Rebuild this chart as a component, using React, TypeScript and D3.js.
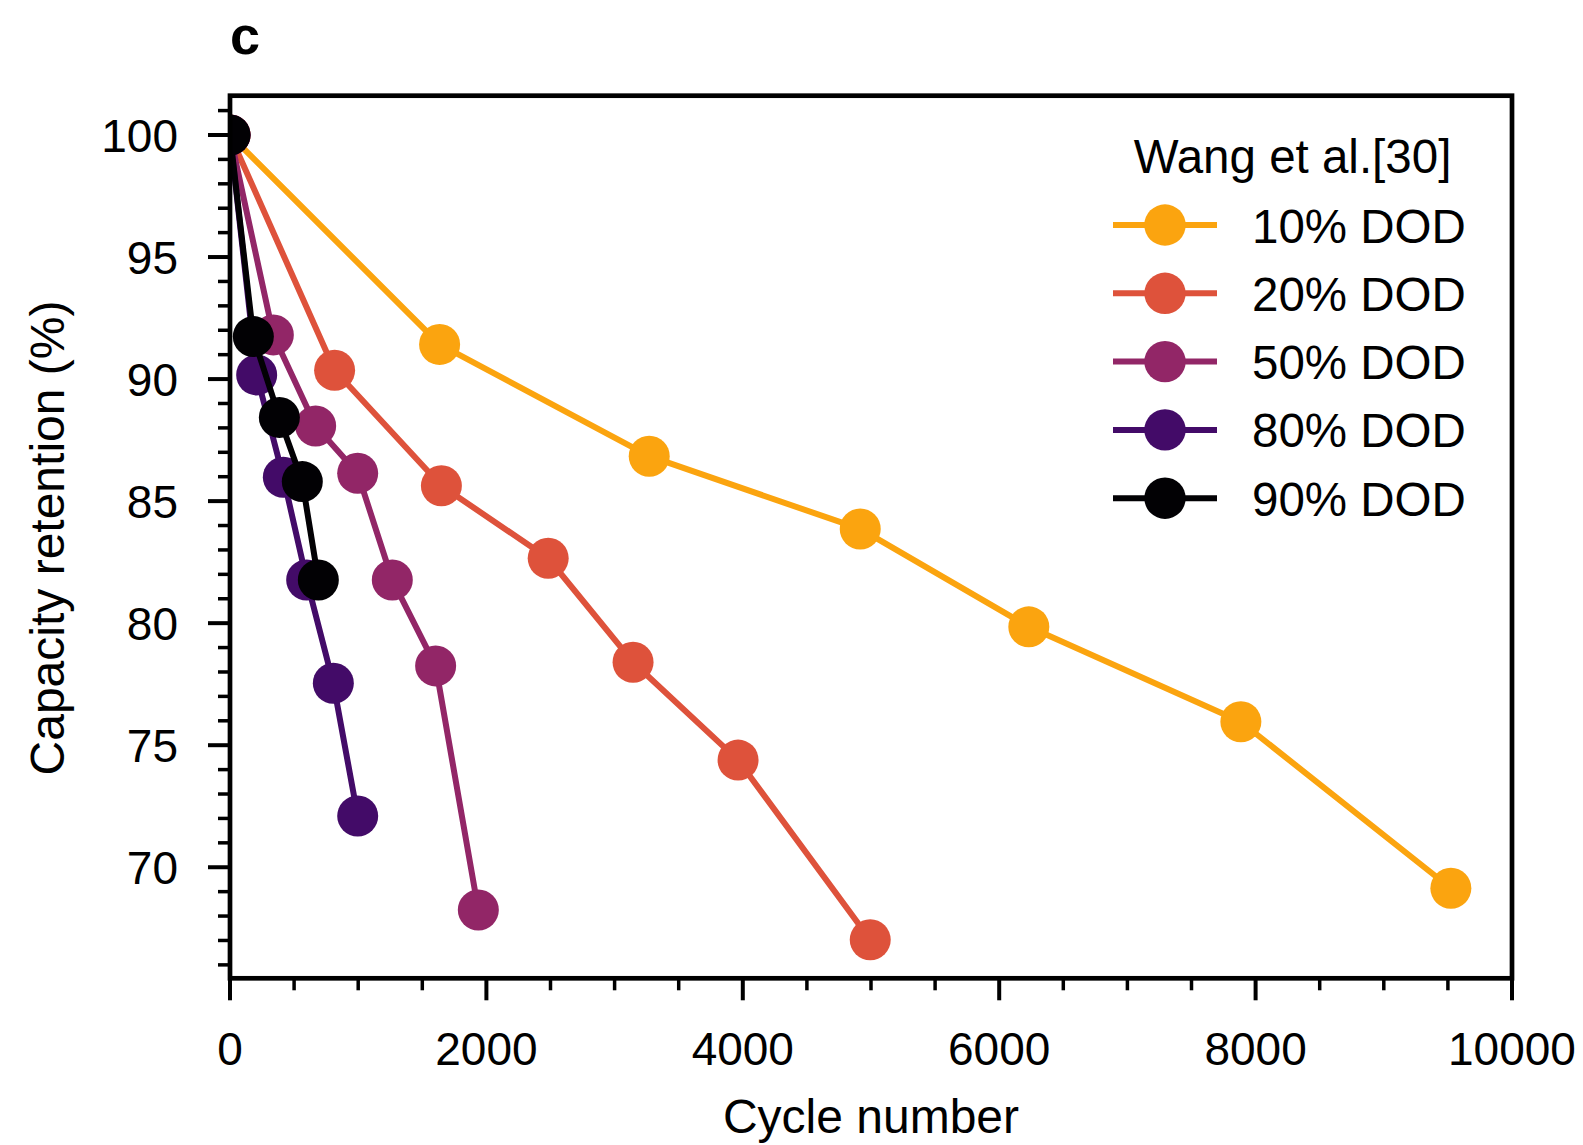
import React from "react";
import * as d3 from "d3";

const seriesNames = ["10% DOD", "20% DOD", "50% DOD", "80% DOD", "90% DOD"];
const seriesColors = ["#FBA40F", "#DE523B", "#922667", "#430B68", "#020104"];

const dod10X = [0, 1635, 3270, 4916, 6231, 7885, 9523];
const dod10Y = [100, 91.42, 86.84, 83.86, 79.85, 75.96, 69.14];
const dod20X = [0, 816, 1649, 2482, 3144, 3963, 4994];
const dod20Y = [100, 90.36, 85.63, 82.66, 78.4, 74.39, 67.03];
const dod50X = [0, 338, 668, 996, 1266, 1604, 1937];
const dod50Y = [100, 91.81, 88.08, 86.14, 81.77, 78.25, 68.25];
const dod80X = [0, 208, 416, 598, 806, 996];
const dod80Y = [100, 90.17, 85.98, 81.77, 77.54, 72.1];
const dod90X = [0, 182, 385, 564, 689];
const dod90Y = [100, 91.74, 88.43, 85.8, 81.77];

const xMajorTicks = [0, 2000, 4000, 6000, 8000, 10000];
const yMajorTicks = [70, 75, 80, 85, 90, 95, 100];

const legendTitle = "Wang et al.[30]";
const xLabel = "Cycle number";
const yLabel = "Capacity retention (%)";
const panelLabel = "c";

const seriesX = [dod10X, dod20X, dod50X, dod80X, dod90X];
const seriesY = [dod10Y, dod20Y, dod50Y, dod80Y, dod90Y];

const W = 1583;
const H = 1145;
const L = 230, R = 1512, T = 95.7, B = 978.3;
const FONT = "'Liberation Sans', Arial, Helvetica, sans-serif";

export default function App() {
  const x = d3.scaleLinear().domain([0, 10000]).range([L, R]);
  const y = d3.scaleLinear().domain([65.45, 101.61]).range([B, T]);
  const xMinor = d3.range(0, 10001, 500).filter((v) => v % 2000 !== 0);
  const yMinor = d3.range(66, 102, 1).filter((v) => v % 5 !== 0);
  const line = d3.line<[number, number]>().x((d) => x(d[0])).y((d) => y(d[1]));
  const markerR = 20.5;
  const lw = 6;

  const legX0 = 1113, legX1 = 1217, legMX = 1165, legTextX = 1252;
  const legY0 = 225, legDY = 68.3;

  return (
    <svg width={W} height={H} style={{ position: "absolute", left: 0, top: 0, background: "#fff" }} fontFamily={FONT}>
      <defs>
        <clipPath id="plotclip">
          <rect x={L} y={T} width={R - L} height={B - T} />
        </clipPath>
      </defs>
      <rect x={0} y={0} width={W} height={H} fill="#fff" />
      <g clipPath="url(#plotclip)">
        {seriesNames.map((name, i) => {
          const pts: [number, number][] = seriesX[i].map((v, j) => [v, seriesY[i][j]]);
          return (
            <g key={name}>
              <path d={line(pts) || ""} fill="none" stroke={seriesColors[i]} strokeWidth={lw} strokeLinejoin="round" />
              {pts.map((p, j) => (
                <circle key={j} cx={x(p[0])} cy={y(p[1])} r={markerR} fill={seriesColors[i]} />
              ))}
            </g>
          );
        })}
      </g>
      {/* spines */}
      <rect x={L} y={T} width={R - L} height={B - T} fill="none" stroke="#000" strokeWidth={4.7} />
      {/* y ticks */}
      {yMajorTicks.map((v) => (
        <g key={"ym" + v}>
          <line x1={L - 22} x2={L} y1={y(v)} y2={y(v)} stroke="#000" strokeWidth={4} />
          <text x={178} y={y(v) + 17} fontSize={46} textAnchor="end" fill="#000">{v}</text>
        </g>
      ))}
      {yMinor.map((v) => (
        <line key={"yn" + v} x1={L - 12} x2={L} y1={y(v)} y2={y(v)} stroke="#000" strokeWidth={3.5} />
      ))}
      {/* x ticks */}
      {xMajorTicks.map((v) => (
        <g key={"xm" + v}>
          <line x1={x(v)} x2={x(v)} y1={B} y2={B + 22} stroke="#000" strokeWidth={4} />
          <text x={x(v)} y={1065} fontSize={46} textAnchor="middle" fill="#000">{v}</text>
        </g>
      ))}
      {xMinor.map((v) => (
        <line key={"xn" + v} x1={x(v)} x2={x(v)} y1={B} y2={B + 12} stroke="#000" strokeWidth={3.5} />
      ))}
      {/* axis labels */}
      <text x={(L + R) / 2} y={1133} fontSize={48} textAnchor="middle" fill="#000">{xLabel}</text>
      <text transform={`translate(63.5, 538) rotate(-90)`} fontSize={48} textAnchor="middle" fill="#000">{yLabel}</text>
      <text x={230} y={54} fontSize={54} fontWeight="bold" fill="#000">{panelLabel}</text>
      {/* legend */}
      <text x={1292.5} y={172.7} fontSize={47.5} textAnchor="middle" fill="#000">{legendTitle}</text>
      {seriesNames.map((name, i) => {
        const cy = legY0 + i * legDY;
        return (
          <g key={"leg" + name}>
            <line x1={legX0} x2={legX1} y1={cy} y2={cy} stroke={seriesColors[i]} strokeWidth={lw} />
            <circle cx={legMX} cy={cy} r={20.7} fill={seriesColors[i]} />
            <text x={legTextX} y={cy + 17.5} fontSize={47.5} fill="#000">{name}</text>
          </g>
        );
      })}
    </svg>
  );
}
